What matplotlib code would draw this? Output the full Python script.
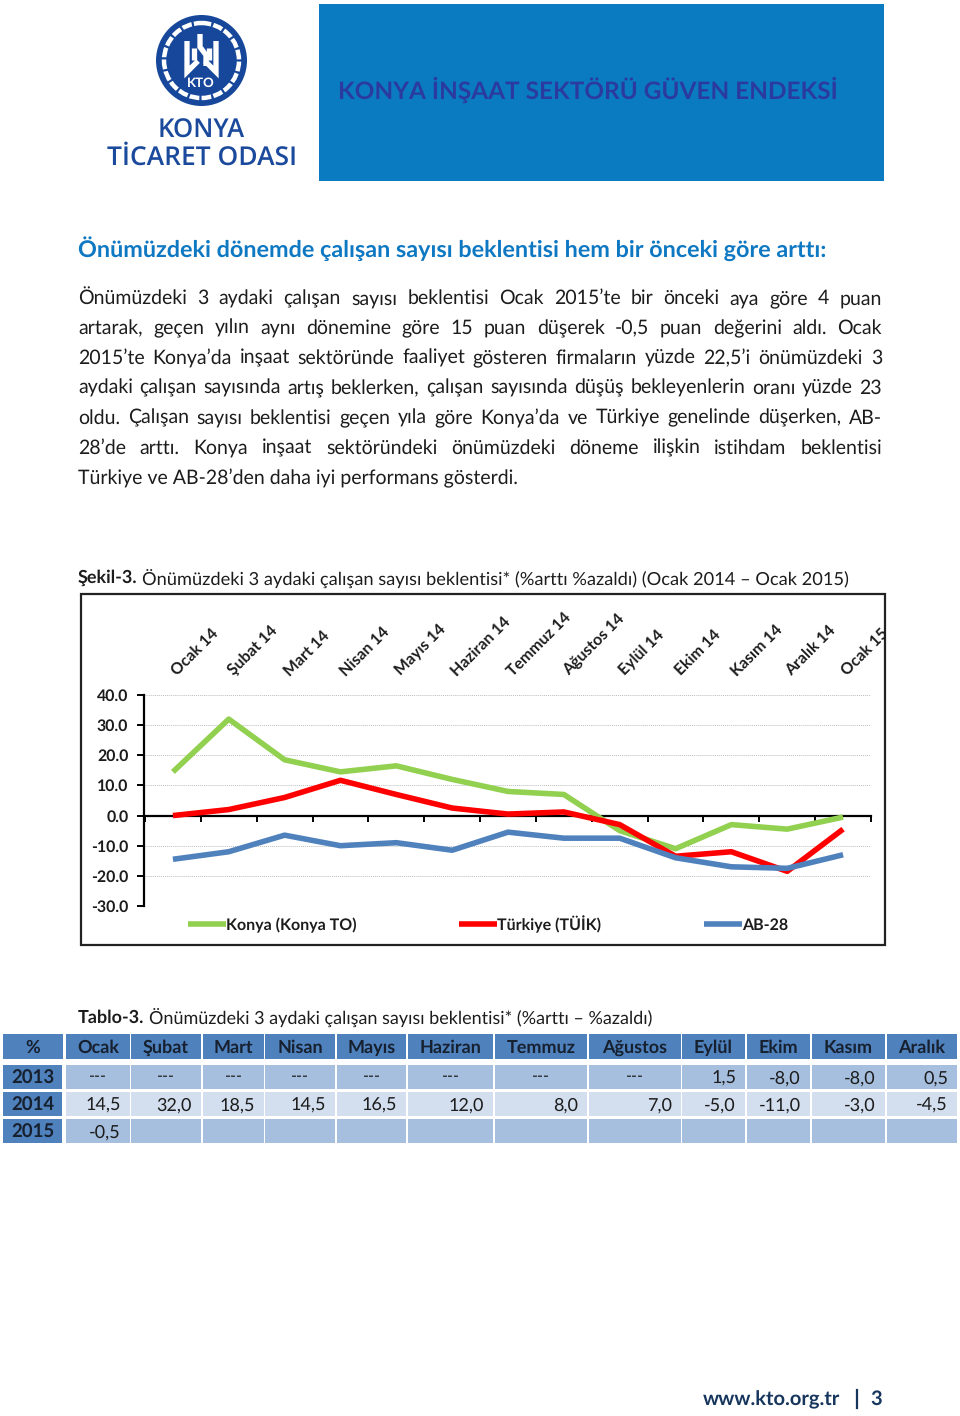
import matplotlib
matplotlib.use('Agg')
import matplotlib.pyplot as plt
from matplotlib.patches import Rectangle, Circle

plt.rcParams['font.family'] = ['Lato', 'DejaVu Sans']
plt.rcParams['text.hinting'] = 'no_hinting'

W, H = 960, 1416

# chart data
months = ['Ocak 14', 'Şubat 14', 'Mart 14', 'Nisan 14', 'Mayıs 14', 'Haziran 14', 'Temmuz 14',
          'Ağustos 14', 'Eylül 14', 'Ekim 14', 'Kasım 14', 'Aralık 14', 'Ocak 15']
konya = [14.5, 32.0, 18.5, 14.5, 16.5, 12.0, 8.0, 7.0, -5.0, -11.0, -3.0, -4.5, -0.5]
turkiye = [0.0, 2.0, 6.0, 11.7, 7.0, 2.5, 0.5, 1.2, -3.0, -13.5, -12.0, -18.5, -4.5]
ab28 = [-14.5, -12.0, -6.5, -10.0, -9.0, -11.5, -5.5, -7.5, -7.5, -14.0, -17.0, -17.5, -13.0]
y_ticks = [40, 30, 20, 10, 0, -10, -20, -30]

# table data
table_header = ['%', 'Ocak', 'Şubat', 'Mart', 'Nisan', 'Mayıs', 'Haziran', 'Temmuz', 'Ağustos',
                'Eylül', 'Ekim', 'Kasım', 'Aralık']
row_2013 = ['2013', '---', '---', '---', '---', '---', '---', '---', '---', '1,5', '-8,0', '-8,0', '0,5']
row_2014 = ['2014', '14,5', '32,0', '18,5', '14,5', '16,5', '12,0', '8,0', '7,0', '-5,0', '-11,0', '-3,0', '-4,5']
row_2015 = ['2015', '-0,5', '', '', '', '', '', '', '', '', '', '', '']

paragraph = [
    'Önümüzdeki 3 aydaki çalışan sayısı beklentisi Ocak 2015’te bir önceki aya göre 4 puan',
    'artarak, geçen yılın aynı dönemine göre 15 puan düşerek -0,5 puan değerini aldı. Ocak',
    '2015’te Konya’da inşaat sektöründe faaliyet gösteren firmaların yüzde 22,5’i önümüzdeki 3',
    'aydaki çalışan sayısında artış beklerken, çalışan sayısında düşüş bekleyenlerin oranı yüzde 23',
    'oldu. Çalışan sayısı beklentisi geçen yıla göre Konya’da ve Türkiye genelinde düşerken, AB-',
    '28’de arttı. Konya inşaat sektöründeki önümüzdeki döneme ilişkin istihdam beklentisi',
]
last_line = 'Türkiye ve AB-28’den daha iyi performans gösterdi.'

NAVY = '#1b4a9c'
TEXT = '#1c1c1c'
BODY_SIZE = 14.05

fig = plt.figure(figsize=(W / 100, H / 100), dpi=100, facecolor='white')

# page layer in pixel coordinates
page = fig.add_axes([0, 0, 1, 1])
page.set_xlim(0, W)
page.set_ylim(H, 0)
page.axis('off')


def justified(line, y, x0=78, x1=882, size=BODY_SIZE):
    # spread the words of one line between x0 and x1
    renderer = fig.canvas.get_renderer()
    words = line.split(' ')
    items = [page.text(0, y, w, fontsize=size, color=TEXT, va='center') for w in words]
    widths = [t.get_window_extent(renderer).width for t in items]
    gap = (x1 - x0 - sum(widths)) / (len(words) - 1)
    x = x0
    for t, w in zip(items, widths):
        t.set_x(x)
        x += w + gap


# header: logo
page.add_patch(Circle((201.5, 60.5), 45.5, color='#17479b', lw=0))
page.add_patch(Circle((201.5, 60.5), 37.5, fill=False, ec='white', lw=3.2, ls=(0, (2.2, 0.5))))
page.add_patch(Circle((201.5, 60.5), 33.5, color='#17479b', lw=0))
glyph = [
    [(187, 41), (187, 72), (198, 61)],
    [(216, 41), (216, 72), (205, 61)],
    [(194, 48), (194, 60)],
    [(209, 48), (209, 60)],
    [(200, 34), (200, 47), (206, 55), (206, 66)],
]
for seg in glyph:
    page.plot([p[0] for p in seg], [p[1] for p in seg], color='white', lw=3.8,
              solid_capstyle='butt', solid_joinstyle='miter')
page.text(201, 83, 'KTO', color='white', fontsize=9.5, fontweight='bold', ha='center', va='center')
page.text(201, 131, 'KONYA', color=NAVY, fontsize=18.5, ha='center', va='center', family='Open Sans', fontweight='semibold')
page.text(202.5, 158, 'TİCARET ODASI', color=NAVY, fontsize=19, ha='center', va='center', family='Open Sans', fontweight='semibold')

# header: banner
page.add_patch(Rectangle((319, 4), 565, 177, color='#0a7bc1', lw=0))
page.text(338, 90, 'KONYA İNŞAAT SEKTÖRÜ GÜVEN ENDEKSİ', color='#2b3a9e', fontsize=17.6,
          fontweight='bold', va='center')

# body text
page.text(78, 249, 'Önümüzdeki dönemde çalışan sayısı beklentisi hem bir önceki göre arttı:',
          color='#0e78c2', fontsize=16.85, fontweight='bold', va='center')
for i, line in enumerate(paragraph):
    justified(line, 298.5 + i * 29.9)
page.text(78, 478, last_line, fontsize=BODY_SIZE, color=TEXT, va='center')

page.text(78, 578, 'Şekil-3.', fontsize=13, fontweight='bold', color=TEXT, va='center')
page.text(142, 578, 'Önümüzdeki 3 aydaki çalışan sayısı beklentisi* (%arttı %azaldı) (Ocak 2014 – Ocak 2015)',
          fontsize=13.15, color=TEXT, va='center')

# chart frame
page.add_patch(Rectangle((81, 594), 804, 351, fill=False, ec='#222222', lw=1.6))

# chart, left 145 to 871 px, 40 at 695 px and -30 at 906 px
ax = fig.add_axes([145 / W, 1 - 906 / H, 726 / W, 211 / H])
ax.patch.set_alpha(0)
ax.set_xlim(-0.5, 12.5)
ax.set_ylim(-30, 40)
x = list(range(len(months)))
ax.plot(x, konya, color='#92d050', lw=4, label='Konya (Konya TO)', zorder=3, solid_capstyle='butt')
ax.plot(x, turkiye, color='#ff0000', lw=4, label='Türkiye (TÜİK)', zorder=4, solid_capstyle='butt')
ax.plot(x, ab28, color='#4f81bd', lw=4, label='AB-28', zorder=5, solid_capstyle='butt')

for s in ['top', 'right']:
    ax.spines[s].set_visible(False)
ax.spines['left'].set_linewidth(1.6)
ax.spines['left'].set_position(('outward', 1))
ax.spines['bottom'].set_position(('data', 0))
ax.spines['bottom'].set_linewidth(1.6)
ax.set_yticks(y_ticks)
ax.set_yticklabels([f'{v:.1f}' for v in y_ticks], fontsize=11.4, fontweight='bold', color=TEXT)
ax.tick_params(axis='y', length=5, width=1.4, pad=6)
ax.set_xticks([i - 0.5 for i in range(len(months) + 1)])
ax.set_xticklabels([])
ax.tick_params(axis='x', which='major', direction='out', length=4, width=1.4)
ax.grid(axis='y', color='#bdbdbd', ls=(0, (1, 1)), lw=0.7)
ax.set_axisbelow(True)

clip = Rectangle((0, 594), 886, 351, transform=page.transData)
for i, m in enumerate(months):
    lab = ax.annotate(m, xy=(i, 40), xytext=(5, 12), textcoords='offset points', rotation=45,
                      rotation_mode='anchor', ha='left', va='bottom', fontsize=11.4,
                      fontweight='bold', color=TEXT, annotation_clip=False)
    lab.set_clip_path(clip)

ax.legend(loc='center left', bbox_to_anchor=(188 / W, 1 - 924 / H), bbox_transform=fig.transFigure,
          ncols=3, frameon=False, handlelength=2.4, handletextpad=0, columnspacing=6.4,
          labelcolor=TEXT, prop={'weight': 'bold', 'size': 11.5}, borderpad=0, borderaxespad=0)

# table
page.text(78, 1017.5, 'Tablo-3.', fontsize=13, fontweight='bold', color=TEXT, va='center')
page.text(149, 1017.5, 'Önümüzdeki 3 aydaki çalışan sayısı beklentisi* (%arttı – %azaldı)', fontsize=13,
          color=TEXT, va='center')

col_edges = [(3, 63), (66, 130), (131, 201), (203, 264), (265, 335), (337, 406), (408, 493),
             (495, 587), (589, 681), (682, 745), (747, 810), (812, 885), (887, 957)]
BLUE = '#4f81bd'
for (a, b), name in zip(col_edges, table_header):
    page.add_patch(Rectangle((a, 1034), b - a, 25, color=BLUE, lw=0))
    page.text((a + b) / 2, 1047.5, name, fontsize=13, fontweight='bold', color='#16202e', ha='center', va='center')

rows = [(1065, row_2013, '#a7bfde'), (1092, row_2014, '#d3dfee'), (1119, row_2015, '#a7bfde')]
for top, row, shade in rows:
    for j, ((a, b), val) in enumerate(zip(col_edges, row)):
        if j == 0:
            page.add_patch(Rectangle((3, top), 59, 24, color=BLUE, lw=0))
            page.text(33, top + 13, val, fontsize=13.4, fontweight='bold', color='#16202e', ha='center', va='center')
        else:
            page.add_patch(Rectangle((a, top), b - a, 24, color=shade, lw=0))
            if val == '---':
                page.text((a + b) / 2, top + 12, val, fontsize=11.6, color=TEXT, ha='center', va='center')
            elif val:
                page.text(b - 9, top + 13, val, fontsize=13, color=TEXT, ha='right', va='center')

# footer
page.text(703, 1399.5, 'www.kto.org.tr', color='#17365d', fontsize=14.5, fontweight='bold', va='center')
page.plot([857, 857], [1390, 1408], color='#17365d', lw=1.6)
page.text(876, 1399.5, '3', color='#17365d', fontsize=14.5, fontweight='bold', ha='center', va='center')

fig.savefig('out.png', dpi=100, facecolor='white')
